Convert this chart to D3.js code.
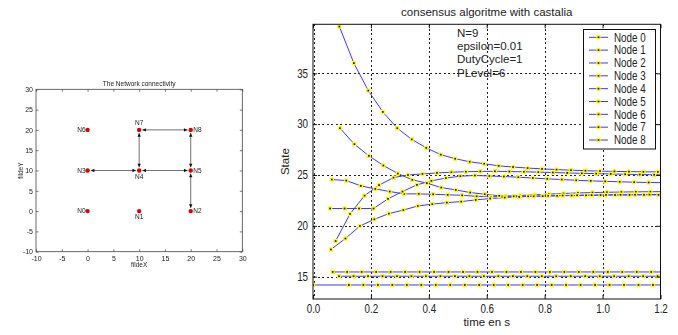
<!DOCTYPE html>
<html>
<head>
<meta charset="utf-8">
<script src="https://cdn.jsdelivr.net/npm/d3@7"></script>
<style>
  html, body { margin: 0; padding: 0; background: #fff; }
  svg { display: block; }
  text { font-family: "Liberation Sans", Arial, sans-serif; fill: #222; }
  .narrow { font-family: "Liberation Sans Narrow", "Arial Narrow", "Liberation Sans", Arial, sans-serif; }
</style>
</head>
<body>
<svg id="fig" width="678" height="335"></svg>
<script>
// ---------- network topology ----------
const netNames = ["N0", "N1", "N2", "N3", "N4", "N5", "N6", "N7", "N8"];
const netX = [0, 10, 20, 0, 10, 20, 0, 10, 20];
const netY = [0, 0, 0, 10, 10, 10, 20, 20, 20];
const netLinks = [[3, 4], [4, 5], [4, 7], [7, 8], [8, 5], [5, 2]];
const netTicks = [-10, -5, 0, 5, 10, 15, 20, 25, 30];

// ---------- consensus traces ----------
const nodeNames = ["Node 0", "Node 1", "Node 2", "Node 3", "Node 4", "Node 5", "Node 6", "Node 7", "Node 8"];
const samplePeriod = 0.05;
// time of the first sample and of the second sample (then one every samplePeriod)
const firstSample  = [0,     0.090, 0.065, 0.062, 0.091, 0.059, 0.068, 0.078, 0.093];
const secondSample = [0.124, 0.140, 0.115, 0.112, 0.141, 0.109, 0.118, 0.128, 0.143];

const node0 = [14.18, 14.18, 14.18, 14.18, 14.18, 14.18, 14.18, 14.18, 14.18, 14.18, 14.18, 14.18,
               14.18, 14.18, 14.18, 14.18, 14.18, 14.18, 14.18, 14.18, 14.18, 14.18, 14.18, 14.18];
const node1 = [15.04, 15.04, 15.04, 15.04, 15.04, 15.04, 15.04, 15.04, 15.04, 15.04, 15.04, 15.04,
               15.04, 15.04, 15.04, 15.04, 15.04, 15.04, 15.04, 15.04, 15.04, 15.04, 15.04, 15.04];
const node2 = [24.55, 24.45, 23.93, 23.63, 23.37, 23.14, 23.14, 23.1, 23.05, 23.0, 22.9, 22.85,
               22.9, 22.98, 23.05, 23.12, 23.18, 23.23, 23.27, 23.3, 23.32, 23.34, 23.35, 23.36];
const node3 = [17.67, 18.75, 19.98, 20.64, 21.2, 21.55, 21.95, 22.13, 22.28, 22.38, 22.55, 22.68,
               22.78, 22.85, 22.9, 22.95, 22.98, 23.0, 23.02, 23.04, 23.05, 23.06, 23.07, 23.08];
const node4 = [39.6, 36.0, 33.3, 31.2, 29.6, 28.5, 27.67, 27.0, 26.6, 26.3, 26.1, 25.9,
               25.78, 25.68, 25.6, 25.53, 25.47, 25.42, 25.38, 25.35, 25.33, 25.31, 25.3, 25.29];
const node5 = [21.7, 21.7, 21.7, 21.7, 22.65, 23.37, 24.03, 24.42, 24.7, 24.88, 24.95, 24.9,
               24.85, 24.78, 24.7, 24.62, 24.55, 24.48, 24.42, 24.37, 24.33, 24.29, 24.26, 24.24];
const node6 = [15.46, 15.46, 15.46, 15.46, 15.46, 15.46, 15.46, 15.46, 15.46, 15.46, 15.46, 15.46,
               15.46, 15.46, 15.46, 15.46, 15.46, 15.46, 15.46, 15.46, 15.46, 15.46, 15.46, 15.46];
const node7 = [18.5, 21.17, 22.97, 24.0, 24.74, 25.0, 25.1, 25.2, 25.27, 25.32, 25.35, 25.36,
               25.34, 25.31, 25.28, 25.24, 25.2, 25.16, 25.13, 25.1, 25.07, 25.04, 25.02, 25.0];
const node8 = [29.6, 28.03, 26.88, 25.93, 25.14, 24.52, 24.2, 23.76, 23.53, 23.27, 23.11, 22.95,
               22.9, 22.9, 22.92, 22.95, 22.98, 23.0, 23.02, 23.03, 23.04, 23.05, 23.05, 23.06];
const nodeValues = [node0, node1, node2, node3, node4, node5, node6, node7, node8];

const xTicks = [0, 0.2, 0.4, 0.6, 0.8, 1, 1.2];
const yTicks = [15, 20, 25, 30, 35];
const infoLines = ["N=9", "epsilon=0.01", "DutyCycle=1", "PLevel=6"];

const svg = d3.select("#fig");

// Horizontal squeeze for the tick/legend face when no narrow font is installed
function narrowFactor() {
  const probe = svg.append("text").attr("class", "narrow").attr("font-size", 12).text("Node 0");
  const w = probe.node().getComputedTextLength();
  probe.remove();
  return w > 35 ? 0.82 : 1;
}
const squeeze = narrowFactor();

// =====================================================================
// Left panel: network connectivity
// =====================================================================
(function drawNetwork() {
  const box = { l: 36, r: 242.3, t: 89.3, b: 251.7 };
  const nx = d3.scaleLinear().domain([-10, 30]).range([box.l, box.r]);
  const ny = d3.scaleLinear().domain([-10, 30]).range([box.b, box.t]);

  svg.append("defs").append("filter").attr("id", "soft")
    .append("feGaussianBlur").attr("stdDeviation", 0.35);

  const g = svg.append("g").attr("filter", "url(#soft)");

  g.append("rect").attr("x", box.l).attr("y", box.t)
    .attr("width", box.r - box.l).attr("height", box.b - box.t)
    .attr("fill", "#fff").attr("stroke", "#444").attr("stroke-width", 0.8);

  const tickLen = 2.5;
  const fmt = d => String(d);
  const axB = d3.axisBottom(nx).tickValues(netTicks).tickFormat(fmt).tickSizeInner(-tickLen).tickSizeOuter(0).tickPadding(4);
  const axL = d3.axisLeft(ny).tickValues(netTicks).tickFormat(fmt).tickSizeInner(-tickLen).tickSizeOuter(0).tickPadding(3);
  const axT = d3.axisTop(nx).tickValues(netTicks).tickSizeInner(-tickLen).tickSizeOuter(0).tickFormat("");
  const axR = d3.axisRight(ny).tickValues(netTicks).tickSizeInner(-tickLen).tickSizeOuter(0).tickFormat("");

  [[axB, `translate(0,${box.b})`], [axL, `translate(${box.l},0)`],
   [axT, `translate(0,${box.t})`], [axR, `translate(${box.r},0)`]].forEach(([ax, tr]) => {
    const a = g.append("g").attr("transform", tr).call(ax);
    a.select(".domain").remove();
    a.selectAll("line").attr("stroke", "#444").attr("stroke-width", 0.7);
    a.selectAll("text").attr("font-size", 7).attr("fill", "#333")
      .attr("font-family", "'Liberation Sans', Arial, sans-serif");
  });

  g.append("text").attr("x", (box.l + box.r) / 2).attr("y", 85.5)
    .attr("text-anchor", "middle").attr("font-size", 6.5).text("The Network connectivity");
  g.append("text").attr("x", (box.l + box.r) / 2).attr("y", 267)
    .attr("text-anchor", "middle").attr("font-size", 6.5).text("fildeX");
  g.append("text").attr("transform", `translate(23,${(box.t + box.b) / 2}) rotate(-90)`)
    .attr("text-anchor", "middle").attr("font-size", 6.5).text("fildeY");

  // links with arrow heads at both ends
  const gap = 3.2, headL = 3.6, headW = 1.7;
  netLinks.forEach(([a, b]) => {
    const x1 = nx(netX[a]), y1 = ny(netY[a]), x2 = nx(netX[b]), y2 = ny(netY[b]);
    const len = Math.hypot(x2 - x1, y2 - y1);
    const ux = (x2 - x1) / len, uy = (y2 - y1) / len;
    const sx = x1 + ux * gap, sy = y1 + uy * gap, ex = x2 - ux * gap, ey = y2 - uy * gap;
    g.append("line").attr("x1", sx).attr("y1", sy).attr("x2", ex).attr("y2", ey)
      .attr("stroke", "#333").attr("stroke-width", 0.7);
    [[sx, sy, -ux, -uy], [ex, ey, ux, uy]].forEach(([tx, ty, dx, dy]) => {
      const bx = tx - dx * headL, by = ty - dy * headL;
      g.append("path")
        .attr("d", `M${tx},${ty}L${bx - dy * headW},${by + dx * headW}L${bx + dy * headW},${by - dx * headW}Z`)
        .attr("fill", "#111");
    });
  });

  // nodes
  const labelPos = ["left", "below", "right", "left", "below", "right", "left", "above", "right"];
  netNames.forEach((name, i) => {
    const cx = nx(netX[i]), cy = ny(netY[i]);
    g.append("circle").attr("cx", cx).attr("cy", cy).attr("r", 2.2).attr("fill", "#e00000");
    const t = g.append("text").attr("font-size", 6.5).attr("fill", "#333").text(name);
    const p = labelPos[i];
    if (p === "left") t.attr("x", cx - 2).attr("y", cy + 2.3).attr("text-anchor", "end");
    else if (p === "right") t.attr("x", cx + 2.5).attr("y", cy + 2.3).attr("text-anchor", "start");
    else if (p === "below") t.attr("x", cx).attr("y", cy + 8).attr("text-anchor", "middle");
    else t.attr("x", cx).attr("y", cy - 5).attr("text-anchor", "middle");
  });
})();

// =====================================================================
// Right panel: consensus state over time
// =====================================================================
(function drawConsensus() {
  const box = { l: 313, r: 660.5, t: 24.3, b: 299 };
  const x = d3.scaleLinear().domain([0, 1.2]).range([box.l, box.r]);
  const y = d3.scaleLinear().domain([12.8, 39.82]).range([box.b, box.t]);

  svg.append("clipPath").attr("id", "plotClip")
    .append("rect").attr("x", box.l).attr("y", box.t)
    .attr("width", box.r - box.l).attr("height", box.b - box.t);

  svg.append("rect").attr("x", box.l).attr("y", box.t)
    .attr("width", box.r - box.l).attr("height", box.b - box.t).attr("fill", "#fff");

  // info text sits beneath the grid
  const info = svg.append("g");
  infoLines.forEach((s, i) => {
    info.append("text").attr("x", 457).attr("y", 36.5 + i * 13.4)
      .attr("font-size", 11.5).attr("fill", "#222").text(s);
  });

  // dashed grid
  const grid = svg.append("g").attr("stroke", "#222").attr("stroke-width", 1)
    .attr("stroke-dasharray", "2,2.5").attr("shape-rendering", "crispEdges");
  grid.selectAll("line.gx").data(xTicks.filter(d => d > 0 && d < 1.2)).enter().append("line")
    .attr("x1", d => Math.round(x(d)) + 0.5).attr("x2", d => Math.round(x(d)) + 0.5)
    .attr("y1", box.t).attr("y2", box.b);
  grid.selectAll("line.gy").data(yTicks).enter().append("line")
    .attr("y1", d => Math.round(y(d)) + 0.5).attr("y2", d => Math.round(y(d)) + 0.5)
    .attr("x1", box.l).attr("x2", box.r);
  grid.append("line").attr("x1", box.l + 1.5).attr("x2", box.l + 1.5).attr("y1", box.t).attr("y2", box.b);

  // traces
  const traces = nodeNames.map((name, i) => ({
    name,
    pts: nodeValues[i].map((v, k) => ({
      t: k === 0 ? firstSample[i] : secondSample[i] + (k - 1) * samplePeriod,
      v
    }))
  }));

  const line = d3.line().x(d => x(d.t)).y(d => y(d.v));
  const plot = svg.append("g").attr("clip-path", "url(#plotClip)");
  const lineColor = "#3a3aff";
  const mk = 3, mkStroke = 1.3, mkFill = "#30001e", mkEdge = "#ffff00";

  traces.forEach(tr => {
    plot.append("path").datum(tr.pts).attr("d", line)
      .attr("fill", "none").attr("stroke", lineColor).attr("stroke-width", 1);
  });
  traces.forEach(tr => {
    plot.selectAll(null).data(tr.pts).enter().append("rect")
      .attr("x", d => x(d.t) - mk / 2).attr("y", d => y(d.v) - mk / 2)
      .attr("width", mk).attr("height", mk)
      .attr("fill", mkFill).attr("stroke", mkEdge).attr("stroke-width", mkStroke);
  });

  // frame and inward ticks
  svg.append("rect").attr("x", box.l).attr("y", box.t)
    .attr("width", box.r - box.l).attr("height", box.b - box.t)
    .attr("fill", "none").attr("stroke", "#111").attr("stroke-width", 1);

  const tl = 4;
  const axB = d3.axisBottom(x).tickValues(xTicks).tickSizeInner(-tl).tickSizeOuter(0).tickPadding(5);
  const axL = d3.axisLeft(y).tickValues(yTicks).tickSizeInner(-tl).tickSizeOuter(0).tickPadding(6);
  const axT = d3.axisTop(x).tickValues(xTicks).tickSizeInner(-tl).tickSizeOuter(0).tickFormat("");
  const axR = d3.axisRight(y).tickValues(yTicks).tickSizeInner(-tl).tickSizeOuter(0).tickFormat("");
  [[axB, `translate(0,${box.b})`], [axL, `translate(${box.l},0)`],
   [axT, `translate(0,${box.t})`], [axR, `translate(${box.r},0)`]].forEach(([ax, tr]) => {
    const a = svg.append("g").attr("transform", tr).call(ax);
    a.select(".domain").remove();
    a.selectAll("line").attr("stroke", "#111");
    a.selectAll("text").attr("font-size", 12).attr("fill", "#333")
      .attr("class", "narrow").attr("font-family", null)
      .attr("transform", squeeze < 1 ? `scale(${squeeze},1)` : null);
  });

  svg.append("text").attr("x", (box.l + box.r) / 2).attr("y", 16)
    .attr("text-anchor", "middle").attr("font-size", 11.5).text("consensus algoritme with castalia");
  svg.append("text").attr("x", (box.l + box.r) / 2).attr("y", 326)
    .attr("text-anchor", "middle").attr("font-size", 11.5).text("time en s");
  svg.append("text").attr("transform", `translate(289,${(box.t + box.b) / 2}) rotate(-90)`)
    .attr("text-anchor", "middle").attr("font-size", 11.5).text("State");

  // legend
  const lg = svg.append("g");
  lg.append("rect").attr("x", 583.5).attr("y", 29.5).attr("width", 72).attr("height", 119.5)
    .attr("fill", "#fff").attr("stroke", "#111").attr("stroke-width", 1);
  nodeNames.forEach((name, i) => {
    const cy = 37.3 + i * 12.84;
    lg.append("line").attr("x1", 589).attr("x2", 608).attr("y1", cy).attr("y2", cy)
      .attr("stroke", lineColor).attr("stroke-width", 1);
    lg.append("rect").attr("x", 598.5 - mk / 2).attr("y", cy - mk / 2).attr("width", mk).attr("height", mk)
      .attr("fill", mkFill).attr("stroke", mkEdge).attr("stroke-width", mkStroke);
    lg.append("text").attr("transform", `translate(614,${cy + 4.2}) scale(${squeeze},1)`)
      .attr("font-size", 12).attr("class", "narrow").attr("fill", "#333").text(name);
  });
})();
</script>
</body>
</html>
